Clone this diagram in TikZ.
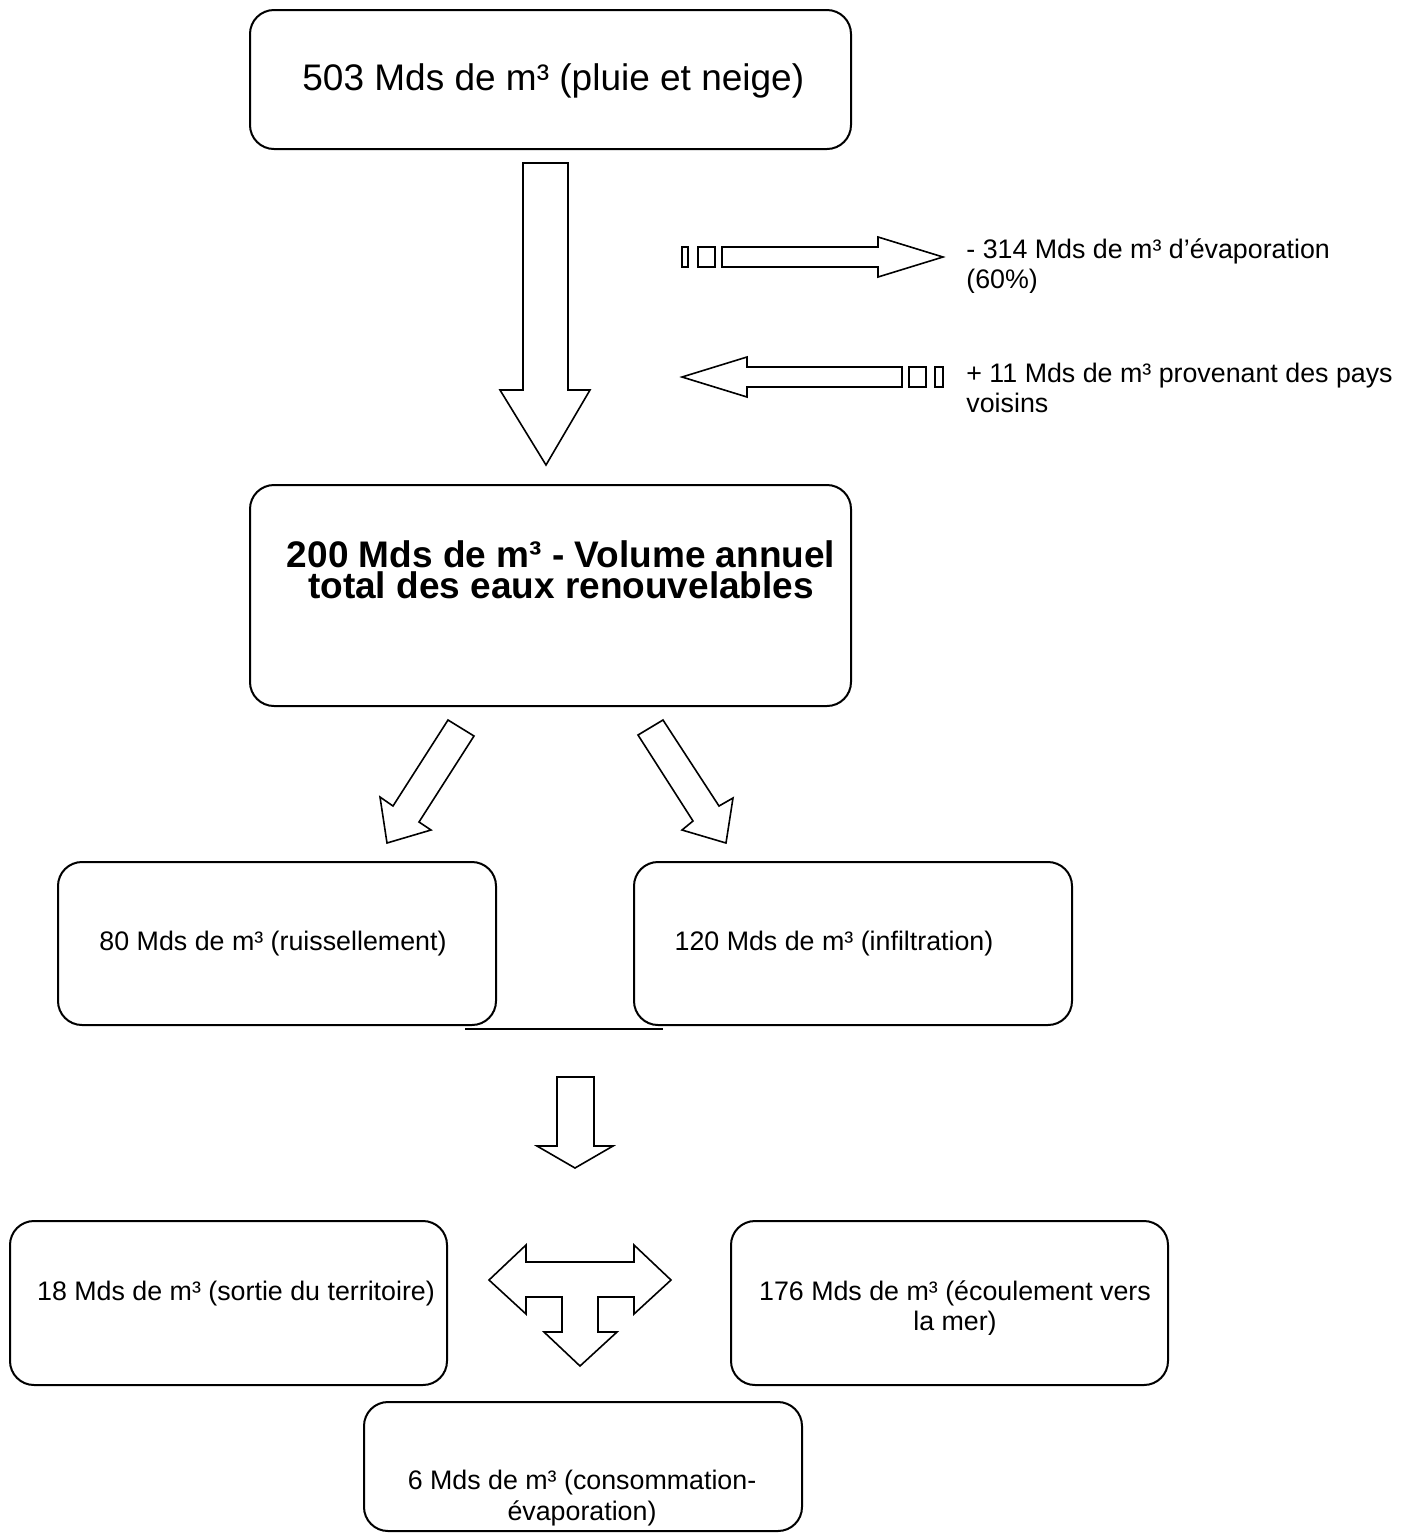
\documentclass[tikz,border=0pt]{standalone}
\usepackage{fontspec}
\setmainfont{Liberation Sans}
\usetikzlibrary{fit}
\begin{document}
\begin{tikzpicture}[x=0.5pt,y=-0.5pt,
  box/.style={draw, line width=1pt, rounded corners=12pt, inner sep=0pt},
  blockarrow/.style={draw, line width=0.8pt, fill=white, line join=miter},
  bigtxt/.style={anchor=base west, inner sep=0pt, font=\fontsize{18.5}{21}\selectfont},
  bigbold/.style={anchor=base, inner sep=0pt, font=\fontsize{18.5}{21}\selectfont\bfseries},
  smalltxt/.style={anchor=base west, inner sep=0pt, font=\fontsize{13.4}{15}\selectfont},
  smallc/.style={anchor=base, inner sep=0pt, font=\fontsize{13.4}{15}\selectfont}]
\useasboundingbox[fill=white] (0,0) rectangle (1416,1533);

% boxes
\node[box, fit={(250,10) (851,149)}] (top) {};
\node[box, fit={(250,485) (851,706)}] (mid) {};
\node[box, fit={(58,862) (496,1025)}] (ruis) {};
\node[box, fit={(634,862) (1072,1025)}] (infi) {};
\node[box, fit={(10,1221) (447,1385)}] (sort) {};
\node[box, fit={(731,1221) (1168,1385)}] (mer) {};
\node[box, fit={(364,1402) (802,1531)}] (cons) {};

% texts
\node[bigtxt] (ttop) at (302,90) {503 Mds de m³ (pluie et neige)};
\node[bigbold] (tmid1) at (561,567) {200 Mds de m³ - Volume annuel};
\node[bigbold] (tmid2) at (561,598) {total des eaux renouvelables};
\node[smallc] (truis) at (273,950) {80 Mds de m³ (ruissellement)};
\node[smallc] (tinfi) at (834,950) {120 Mds de m³ (infiltration)};
\node[smallc] (tsort) at (236,1300) {18 Mds de m³ (sortie du territoire)};
\node[smallc] (tmer1) at (955,1300) {176 Mds de m³ (écoulement vers};
\begin{scope}
  \clip (740,1306) rectangle (1160,1334);
  \node[smallc] (tmer2) at (955,1330) {la mer)};
\end{scope}
\node[smallc] (tcons1) at (582,1489) {6 Mds de m³ (consommation-};
\node[smallc] (tcons2) at (582,1520) {évaporation)};
\node[smalltxt] (tevap1) at (966,258) {- 314 Mds de m³ d’évaporation};
\begin{scope}
  \clip (950,264) rectangle (1100,292);
  \node[smalltxt] (tevap2) at (966,288) {(60\%)};
\end{scope}
\node[smalltxt] (tvois1) at (966,382) {+ 11 Mds de m³ provenant des pays};
\node[smalltxt] (tvois2) at (966,412) {voisins};

% big down arrow
\draw[blockarrow] (523,163) -- (568,163) -- (568,390) -- (590,390) -- (546,465) -- (500,390) -- (523,390) -- cycle;

% evaporation arrow (right)
\draw[blockarrow] (682,247) rectangle (688,267);
\draw[blockarrow] (698,247) rectangle (715,267);
\draw[blockarrow] (722,247) -- (878,247) -- (878,237) -- (943,257) -- (878,277) -- (878,267) -- (722,267) -- cycle;

% neighbours arrow (left)
\draw[blockarrow] (682,377) -- (747,357) -- (747,367) -- (902,367) -- (902,387) -- (747,387) -- (747,397) -- cycle;
\draw[blockarrow] (909,367) rectangle (926,387);
\draw[blockarrow] (935,367) rectangle (943,387);

% diagonal arrows
\draw[blockarrow] (448,720) -- (474,736) -- (419,822) -- (431,830) -- (387,843) -- (380,797) -- (393,806) -- cycle;
\draw[blockarrow] (663,720) -- (638,735) -- (693,821) -- (682,830) -- (726,843) -- (733,798) -- (719,806) -- cycle;

% horizontal line
\draw[line width=0.8pt] (465,1029) -- (663,1029);

% small down arrow
\draw[blockarrow] (557,1077) -- (594,1077) -- (594,1146) -- (613,1146) -- (575,1168) -- (537,1146) -- (557,1146) -- cycle;

% T arrow
\draw[blockarrow] (489,1280) -- (526,1245) -- (526,1262) -- (634,1262) -- (634,1245) -- (671,1280) -- (634,1314) -- (634,1297) -- (598,1297) -- (598,1332) -- (617,1332) -- (580,1366) -- (544,1332) -- (562,1332) -- (562,1297) -- (526,1297) -- (526,1314) -- cycle;
\end{tikzpicture}
\end{document}
